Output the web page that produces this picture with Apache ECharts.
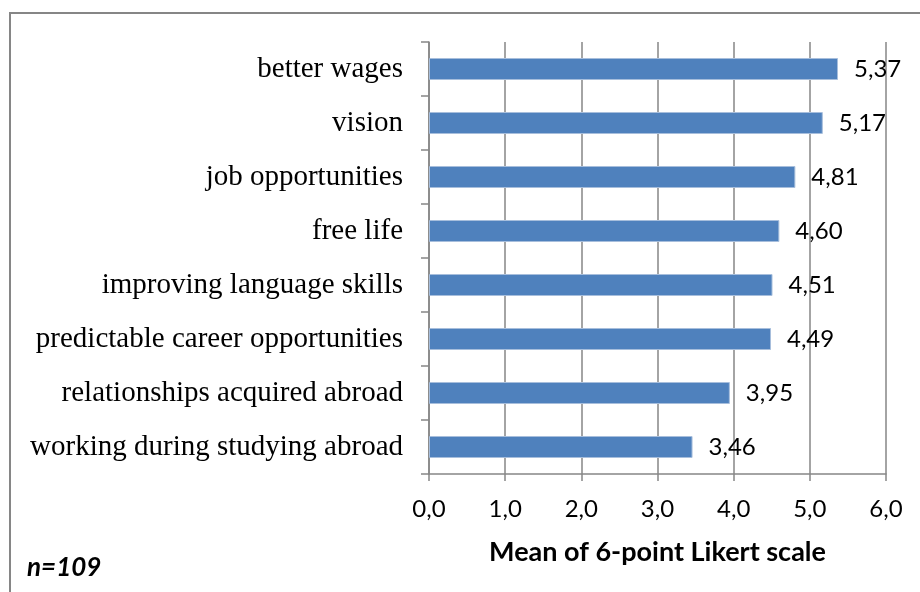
<!DOCTYPE html>
<html>
<head>
<meta charset="utf-8">
<script src="https://cdn.jsdelivr.net/npm/echarts@6/dist/echarts.min.js"></script>
<style>
html, body { margin: 0; padding: 0; background: #fff; }
#chart { width: 920px; height: 592px; }
</style>
</head>
<body>
<div id="chart"></div>
<script>
var categories = [
	"better wages",
	"vision",
	"job opportunities",
	"free life",
	"improving language skills",
	"predictable career opportunities",
	"relationships acquired abroad",
	"working during studying abroad"
];
var means = [5.37, 5.17, 4.81, 4.60, 4.51, 4.49, 3.95, 3.46];
var axisTitle = "Mean of 6-point Likert scale";
var sampleNote = "n=109";

var comma = function(v, digits){
	return Number(v).toFixed(digits).replace(".", ",");
};

var chart = echarts.init(document.getElementById('chart'));
var gray = "#868686";

var option = {
	animation: false,
	backgroundColor: "#fff",
	grid: { left: 429, right: 34, top: 42, bottom: 118, containLabel: false },
	xAxis: {
		type: 'value',
		min: 0,
		max: 6,
		interval: 1,
		axisLine: { show: true, lineStyle: { color: gray, width: 1.5 } },
		axisTick: { show: true, length: 7, lineStyle: { color: gray, width: 1.5 } },
		splitLine: { show: true, lineStyle: { color: gray, width: 1.5 } },
		axisLabel: {
			margin: 23,
			fontFamily: "Lato",
			fontSize: 24,
			color: "#000",
			formatter: function(v){ return comma(v, 1); }
		},
		name: axisTitle,
		nameLocation: 'middle',
		nameGap: 65,
		nameTextStyle: { fontFamily: "Lato", fontWeight: 'bold', fontSize: 27, color: "#000" }
	},
	yAxis: {
		type: 'category',
		inverse: true,
		data: categories,
		axisLine: { show: true, lineStyle: { color: gray, width: 1.5 } },
		axisTick: { show: true, length: 8, lineStyle: { color: gray, width: 1.5 } },
		axisLabel: {
			margin: 26,
			fontFamily: "Liberation Serif",
			fontSize: 29,
			color: "#000",
			padding: [6, 0, 0, 0]
		}
	},
	series: [{
		type: 'bar',
		data: means,
		barWidth: 22,
		itemStyle: { color: "#4F81BD", borderColor: "#A7BEDC", borderWidth: 1 },
		label: {
			show: true,
			position: 'right',
			distance: 16,
			fontFamily: "Lato",
			fontSize: 24,
			color: "#000",
			formatter: function(p){ return comma(p.value, 2); }
		}
	}],
	graphic: [
		{
			type: 'rect',
			shape: { x: 10, y: 13, width: 960, height: 640 },
			style: { fill: null, stroke: gray, lineWidth: 2 }
		},
		{
			type: 'text',
			left: 27,
			top: 555,
			style: { text: sampleNote, font: "italic bold 26px Lato", fill: "#000" }
		}
	]
};

chart.setOption(option);
</script>
</body>
</html>
